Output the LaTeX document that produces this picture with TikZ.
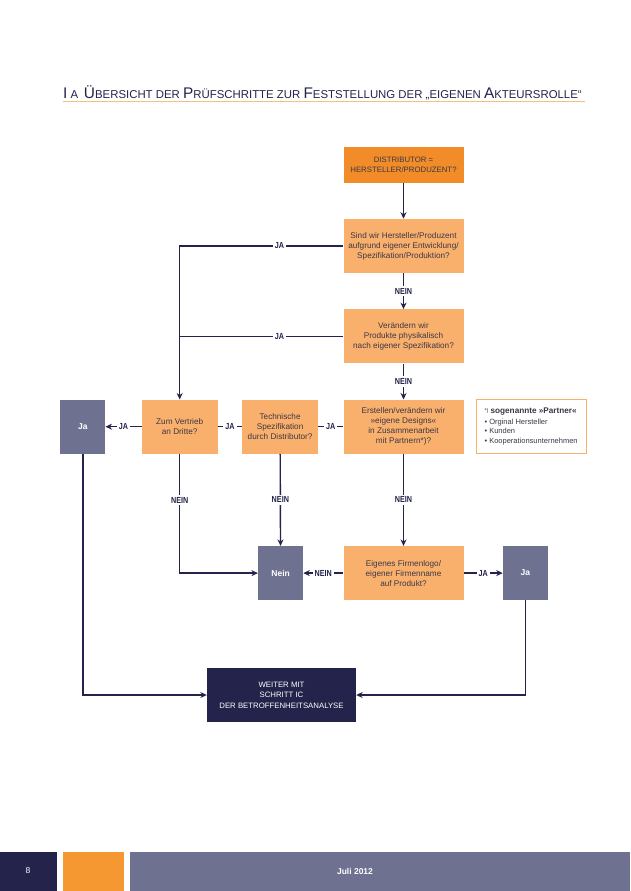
\documentclass[tikz,border=0pt]{standalone}
\usepackage{fontspec}
\setmainfont{Liberation Sans}
\newfontfamily\condfont[FakeStretch=0.82]{Liberation Sans}
\usepackage{tikz}
\usepackage{xcolor}
\usetikzlibrary{positioning}
\usetikzlibrary{calc}
\usetikzlibrary{arrows.meta}
\definecolor{orange1}{RGB}{242, 140, 40}
\definecolor{orange2}{RGB}{249, 176, 108}
\definecolor{orange3}{RGB}{245, 152, 50}
\definecolor{slate}{RGB}{110, 113, 144}
\definecolor{navy}{RGB}{35, 35, 75}
\definecolor{boxtext}{RGB}{60, 55, 70}
\definecolor{rule}{RGB}{246, 190, 130}
\newcommand{\titlecap}[1]{{\fontsize{15.4}{16}\selectfont #1}}
\tikzstyle{qdark} = [
	fill=orange1,
	text=boxtext,
	minimum width=120pt,
	minimum height=36pt,
	inner sep=0pt,
	align=center,
	font=\fontsize{7.8}{10}\selectfont
]
\tikzstyle{qbox} = [
	fill=orange2,
	text=boxtext,
	minimum width=120pt,
	minimum height=54pt,
	inner sep=0pt,
	align=center,
	font=\fontsize{8.2}{10}\selectfont
]
\tikzstyle{qsmall} = [
	qbox,
	minimum width=76pt
]
\tikzstyle{gbox} = [
	fill=slate,
	text=white,
	minimum width=45pt,
	minimum height=54pt,
	inner sep=0pt,
	font=\fontsize{8.5}{10}\selectfont\bfseries
]
\tikzstyle{endbox} = [
	fill=navy,
	text=white,
	minimum width=149pt,
	minimum height=54pt,
	inner sep=0pt,
	align=center,
	font=\fontsize{7.8}{10.5}\selectfont
]
\tikzstyle{notebox} = [
	draw=orange2,
	line width=0.8pt,
	fill=white,
	text=boxtext,
	minimum width=110pt,
	minimum height=54pt,
	inner xsep=2pt,
	inner ysep=4pt,
	align=left,
	font=\fontsize{7.5}{9.5}\selectfont
]
\tikzstyle{line} = [
	draw=navy,
	line width=1.4pt
]
\tikzstyle{arr} = [
	line,
	-{Stealth[length=6.5pt,width=6pt]}
]
\tikzstyle{lab} = [
	fill=white,
	text=navy,
	inner sep=2pt,
	font=\condfont\fontsize{8.8}{10}\selectfont\bfseries
]

\begin{document}
\begin{tikzpicture}[x=1pt, y=-1pt]
	\useasboundingbox (0,0) rectangle (630,891);
	
	%
	% Title and rule
	\node[anchor=base west, inner sep=0pt, text=navy, font=\fontsize{11.4}{12}\selectfont] (title) at (63,98)
		{\titlecap{I} A\enspace\titlecap{Ü}BERSICHT DER \titlecap{P}RÜFSCHRITTE ZUR \titlecap{F}ESTSTELLUNG DER „EIGENEN \titlecap{A}KTEURSROLLE“};
	\draw[rule, line width=0.9pt] (63,101) -- (585,101);
	
	% Main column
	\node[qdark] (dist) at (403.5,164.5) {DISTRIBUTOR =\\HERSTELLER/PRODUZENT?};
	\node[qbox, below=36pt of dist] (sind) {Sind wir Hersteller/Produzent\\aufgrund eigener Entwicklung/\\Spezifikation/Produktion?};
	\node[qbox, below=36pt of sind] (ver) {Verändern wir\\Produkte physikalisch\\nach eigener Spezifikation?};
	\node[qbox, below=36pt of ver] (erst) {Erstellen/verändern wir\\»eigene Designs«\\in Zusammenarbeit\\mit Partnern*)?};
	
	% Middle row
	\node[qsmall, left=25pt of erst] (tech) {Technische\\Spezifikation\\durch Distributor?};
	\node[qsmall, left=24pt of tech] (zum) {Zum Vertrieb\\an Dritte?};
	\node[gbox, left=36pt of zum] (jal) {Ja};
	\node[notebox, right=12pt of erst] (partner) {{\raisebox{1.5pt}{\fontsize{5.5}{6}\selectfont*)}} {\fontsize{8.2}{9.5}\selectfont\bfseries sogenannte »Partner«}\\[1pt]
		• Orginal Hersteller\\• Kunden\\• Kooperationsunternehmen};
	
	% Lower row
	\node[qbox, below=92pt of erst] (logo) {Eigenes Firmenlogo/\\eigener Firmenname\\auf Produkt?};
	\node[gbox, left=40pt of logo] (nein) {Nein};
	\node[gbox, right=39pt of logo] (jar) {Ja};
	\node[endbox] (weiter) at (281.5,695) {WEITER MIT\\SCHRITT IC\\DER BETROFFENHEITSANALYSE};
	
	% Connectors
	\draw[arr] (dist) -- (sind);
	\draw[arr] (sind) -- node[lab] {NEIN} (ver);
	\draw[arr] (ver) -- node[lab] {NEIN} (erst);
	\draw[arr] (sind.west) -- node[lab, pos=0.39] {JA} (sind.west -| zum.north) -- (zum.north);
	\draw[line] (ver.west) -- node[lab, pos=0.39] {JA} (ver.west -| zum.north);
	\draw[line] (erst) -- node[lab] {JA} (tech);
	\draw[line] (tech) -- node[lab] {JA} (zum);
	\draw[arr] (zum) -- node[lab] {JA} (jal);
	\draw[arr] (zum.south) -- node[lab, pos=0.39] {NEIN} (zum.south |- nein.west) -- (nein.west);
	\draw[arr] (tech) -- node[lab, pos=0.5] {NEIN} (nein);
	\draw[arr] (erst) -- node[lab] {NEIN} (logo);
	\draw[arr] (logo) -- node[lab] {NEIN} (nein);
	\draw[arr] (logo) -- node[lab] {JA} (jar);
	\draw[arr] (jal.south) |- (weiter.west);
	\draw[arr] (jar.south) |- (weiter.east);
	
	% Footer
	\fill[navy] (0,852) rectangle (57,891);
	\fill[orange3] (63,852) rectangle (124,891);
	\fill[slate] (130,852) rectangle (630,891);
	\node[text=white, font=\fontsize{8.5}{9}\selectfont] (page) at (28,871) {8};
	\node[text=white, font=\fontsize{8.5}{9}\selectfont\bfseries] (date) at (355,871) {Juli 2012};
	
\end{tikzpicture}
\end{document}
